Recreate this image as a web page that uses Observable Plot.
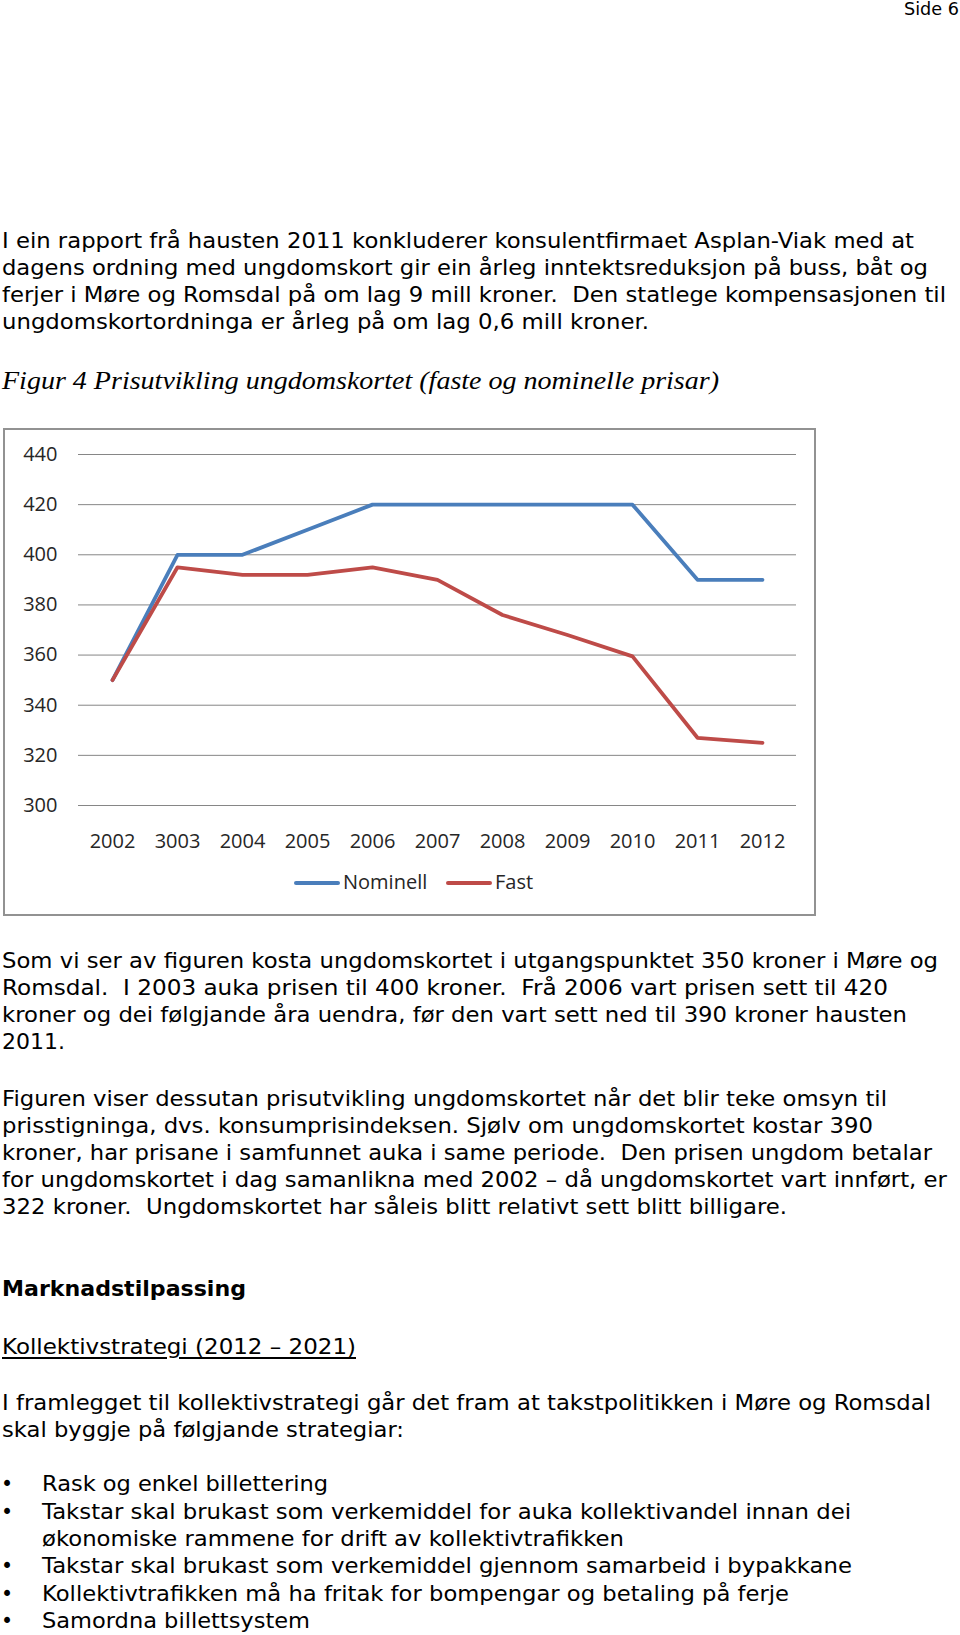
<!DOCTYPE html>
<html><head><meta charset="utf-8">
<script src="https://cdn.jsdelivr.net/npm/d3@7"></script>
<script src="https://cdn.jsdelivr.net/npm/@observablehq/plot@0.6"></script>
<style>
html,body{margin:0;padding:0;background:#fff;}
body{width:960px;height:1635px;position:relative;overflow:hidden;font-family:"DejaVu Sans",Verdana,sans-serif;color:#000;}
.ln{position:absolute;white-space:pre;line-height:0;transform-origin:0 0;}
#frame{position:absolute;left:3px;top:428px;width:813px;height:488px;border:2px solid #929292;box-sizing:border-box;}
#chart{position:absolute;left:4px;top:429px;}
.sw{position:absolute;height:4px;border-radius:2px;}
</style></head><body>
<div id="frame"></div>
<div id="chart"></div>
<script>
// ---- chart data ----
const years = [2002, 2003, 2004, 2005, 2006, 2007, 2008, 2009, 2010, 2011, 2012];
const yearLabels = ["2002", "3003", "2004", "2005", "2006", "2007", "2008", "2009", "2010", "2011", "2012"];
const nominell = [350, 400, 400, 410, 420, 420, 420, 420, 420, 390, 390];
const fast = [350, 395, 392, 392, 395, 390, 376, 368, 359.5, 327, 325];
const seriesNames = ["Nominell", "Fast"];
const seriesColors = ["#4a7ebb", "#be4b48"];
const yTicks = [300, 320, 340, 360, 380, 400, 420, 440];

// ---- page text ----
const pageNumber = "Side 6";
const para1 = [
  "I ein rapport frå hausten 2011 konkluderer konsulentfirmaet Asplan-Viak med at",
  "dagens ordning med ungdomskort gir ein årleg inntektsreduksjon på buss, båt og",
  "ferjer i Møre og Romsdal på om lag 9 mill kroner.  Den statlege kompensasjonen til",
  "ungdomskortordninga er årleg på om lag 0,6 mill kroner."
];
const para1Ends = [914, 928, 946, 649];
const figCaption = "Figur 4 Prisutvikling ungdomskortet (faste og nominelle prisar)";
const para2 = [
  "Som vi ser av figuren kosta ungdomskortet i utgangspunktet 350 kroner i Møre og",
  "Romsdal.  I 2003 auka prisen til 400 kroner.  Frå 2006 vart prisen sett til 420",
  "kroner og dei følgjande åra uendra, før den vart sett ned til 390 kroner hausten",
  "2011."
];
const para2Ends = [938, 888, 907, 65];
const para3 = [
  "Figuren viser dessutan prisutvikling ungdomskortet når det blir teke omsyn til",
  "prisstigninga, dvs. konsumprisindeksen. Sjølv om ungdomskortet kostar 390",
  "kroner, har prisane i samfunnet auka i same periode.  Den prisen ungdom betalar",
  "for ungdomskortet i dag samanlikna med 2002 – då ungdomskortet vart innført, er",
  "322 kroner.  Ungdomskortet har såleis blitt relativt sett blitt billigare."
];
const para3Ends = [887, 873, 932, 947, 787];
const heading = "Marknadstilpassing";
const subheading = "Kollektivstrategi (2012 – 2021)";
const para4 = [
  "I framlegget til kollektivstrategi går det fram at takstpolitikken i Møre og Romsdal",
  "skal byggje på følgjande strategiar:"
];
const para4Ends = [931, 404];
const bullets = [
  ["Rask og enkel billettering"],
  ["Takstar skal brukast som verkemiddel for auka kollektivandel innan dei", "økonomiske rammene for drift av kollektivtrafikken"],
  ["Takstar skal brukast som verkemiddel gjennom samarbeid i bypakkane"],
  ["Kollektivtrafikken må ha fritak for bompengar og betaling på ferje"],
  ["Samordna billettsystem"]
];
const bulletEnds = [[328], [851, 624], [852], [789], [310]];

// ---- helpers ----
const DV = 0.346;   // DejaVu Sans baseline offset (line-height 0)
function addLine(text, left, baseline, end, opts = {}) {
  const d = document.createElement("div");
  d.className = "ln";
  d.textContent = text;
  const fs = opts.size || 20.5;
  const k = opts.k != null ? opts.k : DV;
  d.style.fontSize = fs + "px";
  if (opts.family) d.style.fontFamily = opts.family;
  if (opts.bold) d.style.fontWeight = "bold";
  if (opts.italic) d.style.fontStyle = "italic";
  if (opts.underline) { d.style.textDecoration = "underline"; d.style.textUnderlineOffset = "3px"; }
  if (opts.color) d.style.color = opts.color;
  d.style.left = left + "px";
  d.style.top = (baseline - k * fs) + "px";
  document.body.appendChild(d);
  if (end != null) {
    const w = d.getBoundingClientRect().width;
    if (w > 0) d.style.transform = `scaleX(${(end - left) / w})`;
  }
  return d;
}

addLine(pageNumber, 904, 15, 959, {size: 17.5});
para1.forEach((t, i) => addLine(t, 2, 248.5 + i * 26.75, para1Ends[i]));
addLine(figCaption, 2, 390, 719, {family: '"Liberation Serif", "Times New Roman", serif', italic: true, size: 26, k: 0.3375});
para2.forEach((t, i) => addLine(t, 2, 968.5 + i * 27, para2Ends[i]));
para3.forEach((t, i) => addLine(t, 2, 1106 + i * 27, para3Ends[i]));
addLine(heading, 2, 1296, 246, {bold: true});
addLine(subheading, 2, 1354, 356, {underline: true});
para4.forEach((t, i) => addLine(t, 2, 1410 + i * 27, para4Ends[i]));
const bulletBase = [1491.5, 1519, 1573, 1601, 1628.5];
bullets.forEach((lines, i) => {
  addLine("•", 1, bulletBase[i], null);
  lines.forEach((t, j) => addLine(t, 42, bulletBase[i] + j * 27, bulletEnds[i][j]));
});

// ---- chart ----
const data = years.flatMap((yr, i) => [
  {year: yr, value: nominell[i], series: seriesNames[0]},
  {year: yr, value: fast[i], series: seriesNames[1]}
]);
const chart = Plot.plot({
  width: 810,
  height: 440,
  marginLeft: 74,
  marginRight: 18,
  marginTop: 25,
  marginBottom: 64,
  style: {fontFamily: '"Open Sans", sans-serif', fontSize: "20px", color: "#262626", background: "transparent", overflow: "visible"},
  x: {type: "point", domain: years, padding: 0.5, label: null},
  y: {domain: [300, 440], label: null},
  color: {domain: seriesNames, range: seriesColors},
  marks: [
    Plot.gridY(yTicks, {stroke: "#868686", strokeOpacity: 1, strokeWidth: 1}),
    Plot.axisY(yTicks, {tickSize: 0, tickPadding: 21, label: null, fontSize: 20}),
    Plot.axisX(years, {tickSize: 0, tickPadding: 28, label: null, fontSize: 20, tickFormat: d => yearLabels[years.indexOf(d)]}),
    Plot.line(data, {x: "year", y: "value", z: "series", stroke: "series", strokeWidth: 3.8})
  ]
});
document.getElementById("chart").appendChild(chart);

// ---- legend (HTML, below the plot inside the frame) ----
const legendPos = [{sw: 294, tx: 343}, {sw: 446, tx: 495}];
seriesNames.forEach((name, i) => {
  const s = document.createElement("div");
  s.className = "sw";
  s.style.left = legendPos[i].sw + "px";
  s.style.width = "46px";
  s.style.top = "880.5px";
  s.style.background = seriesColors[i];
  document.body.appendChild(s);
  addLine(name, legendPos[i].tx, 889.3, null, {family: '"Open Sans", sans-serif', size: 20, k: 0.388, color: "#262626"});
});
</script>
</body></html>
